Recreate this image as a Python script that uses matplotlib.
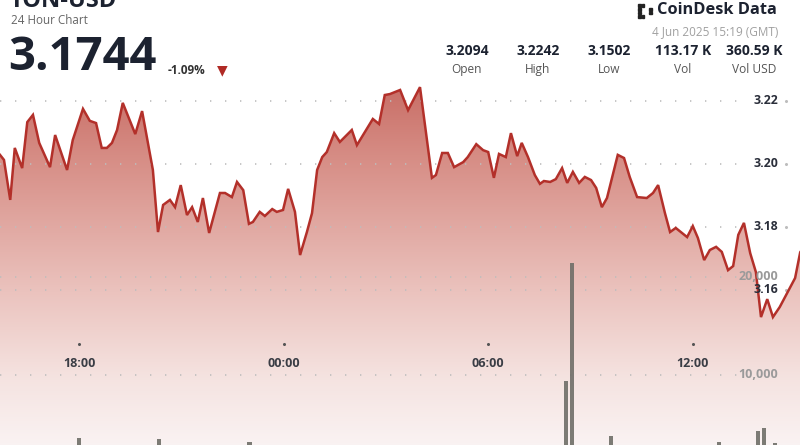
import matplotlib
matplotlib.use('Agg')
import matplotlib.pyplot as plt
import numpy as np
from matplotlib.colors import LinearSegmentedColormap
from matplotlib.patches import Rectangle, Polygon

plt.rcParams['font.family'] = ['Open Sans', 'DejaVu Sans']

# ── Data (3-4 Jun 2025, GMT) ────────────────────────────────────────────────
price_times = [
    "15:41", "15:48", "15:59", "16:07", "16:20", "16:29", "16:39", "16:50",
    "17:09", "17:18", "17:39", "17:49", "18:07", "18:19", "18:30", "18:40",
    "18:49", "18:58", "19:07", "19:17", "19:39", "19:51", "20:10", "20:19",
    "20:28", "20:40", "20:49", "20:59", "21:10", "21:19", "21:29", "21:38",
    "21:49", "22:08", "22:17", "22:29", "22:38", "22:49", "22:59", "23:06",
    "23:18", "23:27", "23:40", "23:48", "23:59", "00:08", "00:20", "00:29",
    "00:41", "00:50", "00:59", "01:08", "01:16", "01:29", "01:39", "02:00",
    "02:09", "02:37", "02:48", "02:58", "03:07", "03:21", "03:25", "03:39",
    "04:00", "04:21", "04:28", "04:39", "04:49", "05:00", "05:16", "05:24",
    "05:39", "05:51", "06:00", "06:10", "06:19", "06:31", "06:40", "06:51",
    "06:59", "07:10", "07:22", "07:31", "07:38", "07:49", "07:59", "08:10",
    "08:19", "08:29", "08:40", "08:50", "09:01", "09:10", "09:20", "09:29",
    "09:40", "09:48", "09:59", "10:09", "10:22", "10:39", "10:50", "10:59",
    "11:11", "11:20", "11:30", "11:41", "11:50", "12:00", "12:09", "12:20",
    "12:30", "12:41", "12:51", "13:02", "13:11", "13:20", "13:30", "13:41",
    "13:51", "14:00", "14:11", "14:21", "14:33", "14:46", "15:00", "15:09",
    "15:19",
]
prices = [
    3.2029, 3.2013, 3.1886, 3.2051, 3.1987, 3.2133, 3.2156, 3.2067,
    3.1990, 3.2092, 3.1981, 3.2076, 3.2175, 3.2137, 3.2130, 3.2051,
    3.2051, 3.2067, 3.2108, 3.2194, 3.2095, 3.2168, 3.1981, 3.1784,
    3.1870, 3.1886, 3.1863, 3.1933, 3.1838, 3.1863, 3.1816, 3.1892,
    3.1781, 3.1908, 3.1908, 3.1895, 3.1943, 3.1917, 3.1810, 3.1816,
    3.1848, 3.1835, 3.1857, 3.1848, 3.1854, 3.1921, 3.1848, 3.1711,
    3.1784, 3.1844, 3.1981, 3.2022, 3.2038, 3.2098, 3.2070, 3.2108,
    3.2060, 3.2143, 3.2127, 3.2219, 3.2222, 3.2232, 3.2235, 3.2171,
    3.2244, 3.1956, 3.1965, 3.2035, 3.2035, 3.1990, 3.2006, 3.2022,
    3.2063, 3.2044, 3.2038, 3.1956, 3.2032, 3.2022, 3.2098, 3.2025,
    3.2067, 3.2022, 3.1965, 3.1937, 3.1946, 3.1943, 3.1952, 3.1987,
    3.1940, 3.1975, 3.1940, 3.1959, 3.1949, 3.1924, 3.1863, 3.1892,
    3.1971, 3.2029, 3.2019, 3.1959, 3.1895, 3.1892, 3.1908, 3.1933,
    3.1844, 3.1784, 3.1797, 3.1781, 3.1768, 3.1803, 3.1765, 3.1695,
    3.1727, 3.1737, 3.1721, 3.1663, 3.1676, 3.1775, 3.1813, 3.1717,
    3.1657, 3.1514, 3.1571, 3.1514, 3.1546, 3.1590, 3.1638, 3.1720,
    3.1744,
]

vol_times = ["18:00", "20:20", "23:00", "08:17", "08:27", "09:36",
             "12:46", "13:55", "14:05", "14:25"]
volumes = [3570, 3470, 3160, 9390, 21430, 3780, 3160, 4290, 4590, 3060]

price_ticks = [3.16, 3.18, 3.20, 3.22]
vol_ticks = [10000, 20000]
time_ticks = [18, 24, 30, 36]
time_labels = ["18:00", "00:00", "06:00", "12:00"]

stat_values = ["3.2094", "3.2242", "3.1502", "113.17 K", "360.59 K"]
stat_names = ["Open", "High", "Low", "Vol", "Vol USD"]


def to_hours(s):
    hh, mm = s.split(":")
    h = int(hh) + int(mm) / 60
    return h + 24 if h < 15.5 else h


t_price = np.array([to_hours(s) for s in price_times])
p = np.array(prices)
t_vol = np.array([to_hours(s) for s in vol_times])

# ── Figure (pixel helpers: 800x445 @ 100 dpi) ───────────────────────────────
W, H = 800, 445
fig = plt.figure(figsize=(8, 4.45), dpi=100)
fig.patch.set_facecolor('white')


def fx(x):
    return x / W


def fy(y):
    return 1 - y / H


ax = fig.add_axes([0, 0, 1, 1])
ax.set_facecolor('none')
# mapping: 34.1 px per hour, 18:00 at x=79; 3150 px per unit, 3.22 at y=101
x0 = 18 - 79 / 34.1
x1 = 18 + (W - 79) / 34.1
y_top = 3.22 + 101 / 3150
y_bot = 3.22 - (H - 101) / 3150
ax.set_xlim(x0, x1)
ax.set_ylim(y_bot, y_top)
ax.axis('off')

# gradient fill under the price line
grad = LinearSegmentedColormap.from_list('g', [
    (0.00, (0.98, 0.95, 0.95)),
    (0.15, (0.96, 0.89, 0.88)),
    (0.35, (0.92, 0.76, 0.74)),
    (0.65, (0.84, 0.55, 0.52)),
    (0.85, (0.77, 0.40, 0.37)),
    (1.00, (0.72, 0.30, 0.28)),
])
gy = np.linspace(0, 1, 256).reshape(-1, 1)
im = ax.imshow(gy, cmap=grad, aspect='auto', origin='lower',
               extent=[x0, x1, y_bot, y_top], zorder=1)
verts = np.column_stack([
    np.concatenate([t_price, [t_price[-1], t_price[0]]]),
    np.concatenate([p, [y_bot - 0.01, y_bot - 0.01]]),
])
poly = Polygon(verts, closed=True, facecolor='none', edgecolor='none',
               transform=ax.transData)
ax.add_patch(poly)
im.set_clip_path(poly)

ax.plot(t_price, p, color='#b3302a', lw=1.8, zorder=5, solid_joinstyle='miter')

# price grid (dotted) + labels
gx_end = x0 + 745 / 34.1
lab_x = x0 + 778 / 34.1
dot_x = x0 + 786 / 34.1
for v in price_ticks:
    ax.hlines(v, x0, gx_end, colors='#bdbdbd', lw=1.2,
              linestyles=(0, (0.8, 8.2)), zorder=2)
    ax.text(lab_x, v, f"{v:.2f}", ha='right', va='center', fontsize=8.8,
            fontweight='bold', color='#2a2e3a', zorder=6)
    ax.plot([dot_x], [v], marker='o', ms=1.2, color='#bdbdbd')

# volume axis
axv = ax.twinx()
axv.set_xlim(x0, x1)
axv.set_ylim((473 - H) / 98 * 10000, 473 / 98 * 10000)
axv.axis('off')
axv.bar(t_vol, volumes, width=0.12, color='#6f6e68', alpha=0.9, zorder=3)
for v in vol_ticks:
    axv.hlines(v, x0, gx_end, colors='#bdbdbd', lw=1.2,
               linestyles=(0, (0.8, 8.2)), zorder=2)
    axv.text(lab_x, v, f"{v:,}", ha='right', va='center', fontsize=9,
             fontweight='bold', color='#9a9a9a', zorder=6)

# time ticks
for t, lab in zip(time_ticks, time_labels):
    ax.plot([t], [3.22 - (344 - 101) / 3150], marker='o', ms=1.2,
            color='#555555', zorder=6)
    ax.text(t, 3.22 - (364 - 101) / 3150, lab, ha='center', va='center',
            fontsize=9, fontweight='bold', color='#3a3d45', zorder=6)

# ── Header ───────────────────────────────────────────────────────────────────
fig.text(fx(10), fy(1), "TON-USD", fontsize=17, fontweight='bold',
         color='#1c2230', ha='left', va='center')
fig.text(fx(11), fy(21), "24 Hour Chart", fontsize=8.4, color='#666666',
         ha='left', va='center')
fig.text(fx(8), fy(57), "3.1744", fontsize=34, fontweight='bold',
         color='#1c2230', ha='left', va='center')
fig.text(fx(168), fy(70), "-1.09%", fontsize=8.5, fontweight='bold',
         color='#333333', ha='left', va='center')
fig.text(fx(222), fy(70), "\u25bc", fontsize=10, color='#b02a25',
         ha='center', va='center', family=['DejaVu Sans'])

# logo: bracket of small squares + colon
cells = [(0, 0), (0, 1), (0, 2), (0, 3), (1, 0), (1, 3), (3, 1), (3, 2)]
for i, j in cells:
    fig.patches.append(Rectangle((fx(638 + i * 3.6), fy(18 - j * 3.6)),
                                 2.8 / W, 2.8 / H, transform=fig.transFigure,
                                 color='#222222'))
fig.text(fx(657), fy(10), "CoinDesk Data", fontsize=11.8, fontweight='bold',
         color='#1c2230', ha='left', va='center')
fig.text(fx(778), fy(32), "4 Jun 2025 15:19 (GMT)", fontsize=8.5,
         color='#a0a0a0', ha='right', va='center')

for x, val, name in zip([467, 538, 609, 683, 754], stat_values, stat_names):
    fig.text(fx(x), fy(51), val, fontsize=10, fontweight='bold',
             color='#1c2230', ha='center', va='center')
    fig.text(fx(x), fy(69), name, fontsize=8.6, color='#555555',
             ha='center', va='center')

fig.savefig('out.png', dpi=100)
